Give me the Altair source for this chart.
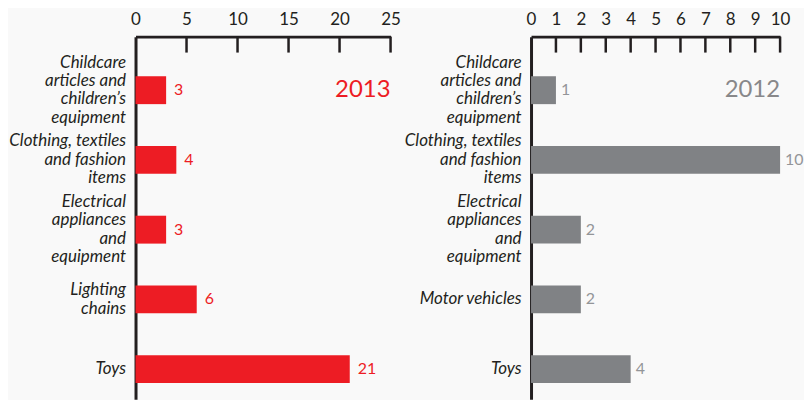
import altair as alt
import pandas as pd

cats_2013 = ["Childcare|articles and|children’s|equipment",
             "Clothing, textiles|and fashion|items",
             "Electrical|appliances|and|equipment",
             "Lighting|chains",
             "Toys"]
vals_2013 = [3, 4, 3, 6, 21]
ticks_2013 = [0, 5, 10, 15, 20, 25]

cats_2012 = ["Childcare|articles and|children’s|equipment",
             "Clothing, textiles|and fashion|items",
             "Electrical|appliances|and|equipment",
             "Motor vehicles",
             "Toys"]
vals_2012 = [1, 10, 2, 2, 4]
ticks_2012 = [0, 1, 2, 3, 4, 5, 6, 7, 8, 9, 10]

INK = "#231f20"
FONT = "Lato"
LH = 18.5


def nlines(n):
    return f"length(split(datum.value, '|')) == {n}"


label_offset = {
    "condition": [
        {"test": nlines(4), "value": -1.5 * LH},
        {"test": nlines(3), "value": -1.0 * LH},
        {"test": nlines(2), "value": -0.5 * LH},
    ],
    "value": 0,
}


def panel(cats, vals, ticks, dmax, year, bar_color, label_color, year_color, width, xpad, dx):
    df = pd.DataFrame({"cat": cats, "val": vals})
    tick_df = pd.DataFrame({"val": [t for t in ticks if t > 0]})
    yr_df = pd.DataFrame({"cat": [cats[0]], "label": [year]})

    x = alt.X("val:Q",
              scale=alt.Scale(domain=[0, dmax], nice=False, zero=True),
              axis=alt.Axis(orient="top", values=ticks, ticks=False, grid=False,
                            domainWidth=3, domainColor=INK, labelFontSize=17,
                            labelColor=INK, labelPadding=xpad, title=None, labelFont=FONT,
                            labelFlush=False, format="d"))
    y = alt.Y("cat:N", sort=cats,
              scale=alt.Scale(paddingInner=0.6, paddingOuter=0.4, align=0.71),
              axis=alt.Axis(ticks=False, grid=False, domainWidth=3, domainColor=INK,
                            labelExpr="split(datum.label, '|')", labelFont=FONT,
                            labelFontStyle="italic", labelFontSize=17, labelLineHeight=LH,
                            labelColor=INK, labelPadding=10, title=None, labelLimit=250,
                            labelOffset=label_offset))

    bars = alt.Chart(df).mark_bar(color=bar_color).encode(x=x, y=y)
    text = alt.Chart(df).mark_text(align="left", baseline="middle", dx=dx, fontSize=16,
                                   font=FONT, color=label_color).encode(
        x=x, y=y, text="val:Q")
    tick_rules = alt.Chart(tick_df).mark_rule(strokeWidth=2.5, color=INK).encode(
        x=x, y=alt.value(0), y2=alt.value(16))
    year_text = alt.Chart(yr_df).mark_text(align="right", baseline="middle", fontSize=24,
                                           font=FONT, color=year_color).encode(
        x=alt.value(width), y=y, text="label:N")
    return alt.layer(bars, text, tick_rules, year_text).properties(width=width, height=364)


left = panel(cats_2013, vals_2013, ticks_2013, 25, "2013", "#ed1c24", "#ed1c24", "#ed1c24", 256, 8, 8)
right = panel(cats_2012, vals_2012, ticks_2012, 10, "2012", "#808285", "#939598", "#88888a", 250, 8, 5)

chart = alt.hconcat(left, right, spacing=3).resolve_scale(
    x="independent", y="independent"
).properties(
    padding={"left": 0, "top": 2, "right": 0, "bottom": 0}
).configure(
    background="#f9f9f9"
).configure_view(stroke=None)

chart.save("out.html", embed_options={"renderer": "svg", "actions": False})
